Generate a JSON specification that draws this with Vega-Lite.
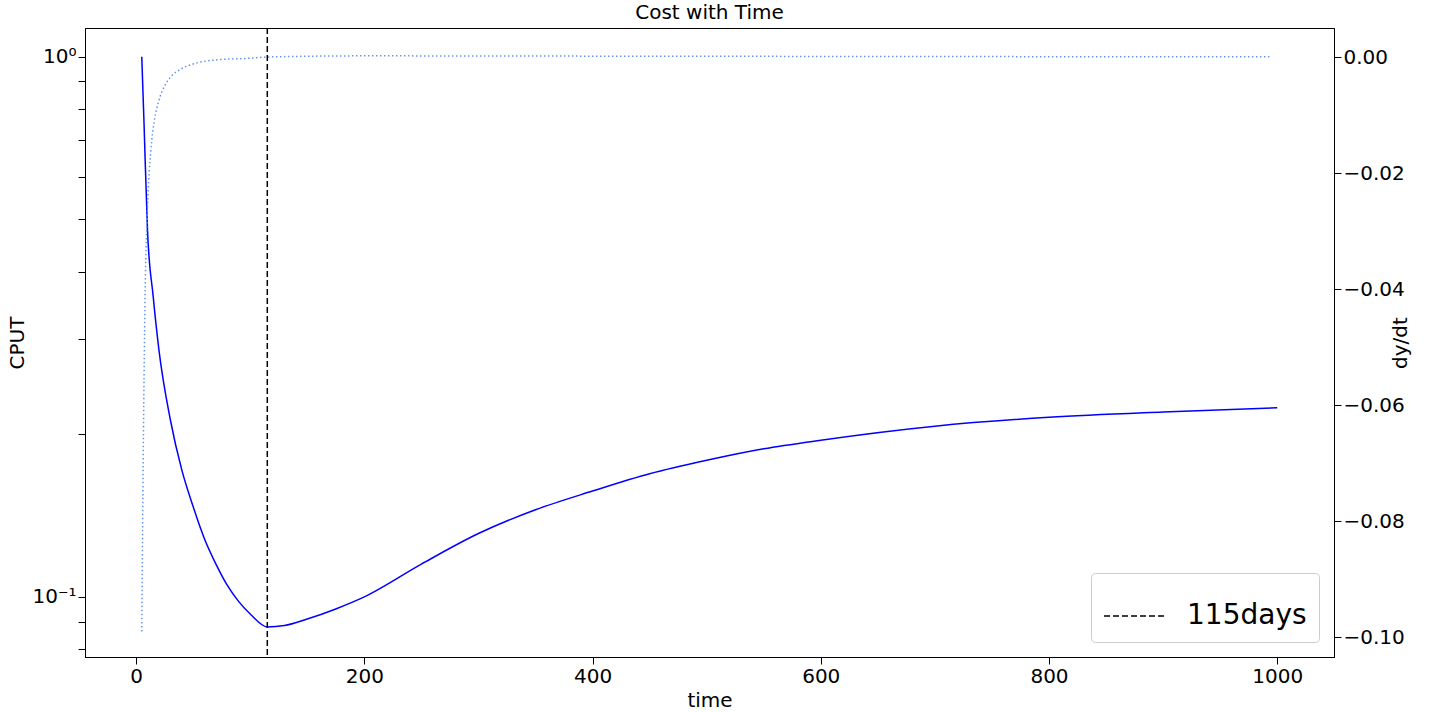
{
"$schema":"https://vega.github.io/schema/vega-lite/v6.json",
"width":1249,"height":629,
"autosize":{"type":"none"},
"padding":{"left":85,"top":28,"right":98,"bottom":55},
"background":"white",
"config":{"font":"DejaVu Sans","view":{"stroke":"black","strokeWidth":1},
"axis":{"grid":false,"labelFont":"DejaVu Sans","titleFont":"DejaVu Sans","labelFontSize":20,"titleFontSize":20,"titleFontWeight":"normal","labelColor":"black","titleColor":"black","domainColor":"black","tickColor":"black","tickSize":7}},
"title":{"text":"Cost with Time","fontSize":20,"fontWeight":"normal","font":"DejaVu Sans","offset":4},
"datasets":{
"cput":[{"t":5,"y":1.0},{"t":7,"y":0.75},{"t":10,"y":0.478},{"t":15,"y":0.36},{"t":20,"y":0.287},{"t":30,"y":0.213},{"t":40,"y":0.172},{"t":50,"y":0.147},{"t":60,"y":0.128},{"t":70,"y":0.115},{"t":80,"y":0.105},{"t":90,"y":0.098},{"t":100,"y":0.093},{"t":115,"y":0.088},{"t":130,"y":0.0885},{"t":150,"y":0.091},{"t":175,"y":0.095},{"t":200,"y":0.1},{"t":250,"y":0.115},{"t":300,"y":0.131},{"t":350,"y":0.145},{"t":400,"y":0.157},{"t":450,"y":0.169},{"t":500,"y":0.179},{"t":550,"y":0.188},{"t":600,"y":0.195},{"t":700,"y":0.207},{"t":800,"y":0.215},{"t":900,"y":0.220},{"t":1000,"y":0.224}],
"dy":[{"t":5,"d":-0.099},{"t":6,"d":-0.075},{"t":7,"d":-0.055},{"t":8,"d":-0.04},{"t":10,"d":-0.026},{"t":13,"d":-0.016},{"t":16,"d":-0.011},{"t":20,"d":-0.0075},{"t":25,"d":-0.005},{"t":30,"d":-0.0035},{"t":40,"d":-0.002},{"t":50,"d":-0.0012},{"t":70,"d":-0.0005},{"t":100,"d":-0.0002},{"t":115,"d":0},{"t":200,"d":0.0002},{"t":400,"d":0.00015},{"t":700,"d":0.00008},{"t":995,"d":0.00003}],
"vline":[{"t":115,"label":"115days"}]
},
"layer":[
{"layer":[
{"data":{"name":"cput"},"mark":{"type":"line","color":"#0000ff","strokeWidth":1.5,"clip":true,"interpolate":"monotone"},
"encoding":{"x":{"field":"t","type":"quantitative","scale":{"domain":[-44.75,1049.75],"nice":false,"zero":false},"axis":{"values":[0,200,400,600,800,1000],"format":"d","title":"time","titlePadding":4}},
"y":{"field":"y","type":"quantitative","scale":{"type":"log","domain":[0.0774,1.13],"nice":false},"axis":{"title":"CPUT","values":[0.08,0.09,0.1,0.2,0.3,0.4,0.5,0.6,0.7,0.8,0.9,1],"labelExpr":"datum.value==1?'10⁰':(abs(datum.value-0.1)<0.001?'10⁻¹':'')","titlePadding":4}}}},
{"data":{"name":"vline"},"mark":{"type":"rule","strokeWidth":1.5},
"encoding":{"x":{"field":"t","type":"quantitative"},
"color":{"field":"label","type":"nominal","scale":{"range":["black"]},"legend":{"title":null,"orient":"bottom-right","symbolType":"stroke","symbolSize":3600,"symbolStrokeWidth":1.5,"symbolDash":[6,3],"labelFontSize":28,"labelFont":"DejaVu Sans","labelColor":"black","strokeColor":"#cccccc","padding":12,"cornerRadius":4,"fillColor":"white","offset":15,"labelOffset":22}},
"strokeDash":{"value":[6,3]}}}
]},
{"data":{"name":"dy"},"mark":{"type":"line","color":"#6495ed","strokeWidth":1.5,"strokeDash":[1.5,2.5],"clip":true,"interpolate":"monotone"},
"encoding":{"x":{"field":"t","type":"quantitative"},
"y":{"field":"d","type":"quantitative","scale":{"domain":[-0.1034,0.005],"nice":false,"zero":false},"axis":{"orient":"right","title":"dy/dt","titleAngle":270,"values":[-0.1,-0.08,-0.06,-0.04,-0.02,0],"format":".2f","labelExpr":"replace(datum.label,'-','−')","titlePadding":6}}}}
],
"resolve":{"scale":{"y":"independent"}}
}
